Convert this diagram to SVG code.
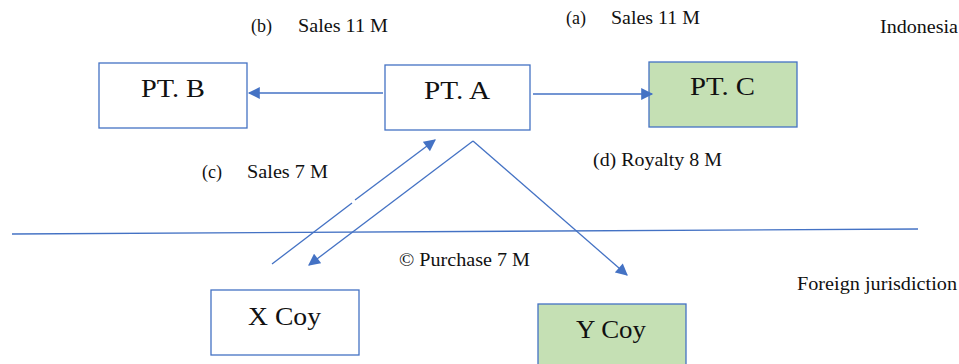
<svg xmlns="http://www.w3.org/2000/svg" width="959" height="364" viewBox="0 0 959 364">
  <style>
    .box { fill: #ffffff; stroke: #4472C4; stroke-width: 1.3; }
    .green { fill: #C5E0B4; }
    .label { font-family: "Liberation Serif", "Times New Roman", serif; font-size: 26px; fill: #111111; }
    .note { font-family: "Liberation Serif", "Times New Roman", serif; font-size: 18px; fill: #111111; }
    .conn { stroke: #4472C4; stroke-width: 1.3; fill: none; }
  </style>
  <defs>
    <marker id="arrow" viewBox="0 0 10 10" refX="9" refY="5" markerWidth="13" markerHeight="12" markerUnits="userSpaceOnUse" orient="auto">
      <path d="M0,0 L10,5 L0,10 Z" fill="#4472C4"/>
    </marker>
  </defs>

  <rect width="959" height="364" fill="#ffffff"/>

  <!-- jurisdiction border -->
  <line x1="12" y1="234" x2="918" y2="229" class="conn"/>

  <g id="pt-b">
    <rect x="99" y="63" width="148" height="65" class="box"/>
    <text x="141" y="97" class="label" textLength="64" lengthAdjust="spacingAndGlyphs">PT. B</text>
  </g>
  <g id="pt-a">
    <rect x="385" y="65" width="145" height="65" class="box"/>
    <text x="424" y="99" class="label" textLength="66" lengthAdjust="spacingAndGlyphs">PT. A</text>
  </g>
  <g id="pt-c">
    <rect x="649" y="62" width="148" height="65" class="box green"/>
    <text x="690" y="95" class="label" textLength="65" lengthAdjust="spacingAndGlyphs">PT. C</text>
  </g>
  <g id="x-coy">
    <rect x="211" y="290" width="148" height="65" class="box"/>
    <text x="248" y="325" class="label" textLength="73" lengthAdjust="spacingAndGlyphs">X Coy</text>
  </g>
  <g id="y-coy">
    <rect x="538" y="304" width="148" height="70" class="box green"/>
    <text x="576" y="338" class="label" textLength="70" lengthAdjust="spacingAndGlyphs">Y Coy</text>
  </g>

  <g id="connectors">
    <line x1="383" y1="93" x2="249" y2="93" class="conn" marker-end="url(#arrow)"/>
    <line x1="533" y1="94" x2="652" y2="94" class="conn" marker-end="url(#arrow)"/>
    <line x1="272" y1="264" x2="352" y2="203" class="conn"/>
    <line x1="355" y1="200" x2="435" y2="140" class="conn" marker-end="url(#arrow)"/>
    <line x1="473" y1="141" x2="309" y2="265" class="conn" marker-end="url(#arrow)"/>
    <line x1="473" y1="141" x2="627" y2="275" class="conn" marker-end="url(#arrow)"/>
  </g>

  <g id="labels">
    <text x="251" y="32" class="note">(b)</text>
    <text x="298" y="32" class="note" textLength="90" lengthAdjust="spacingAndGlyphs">Sales 11 M</text>
    <text x="566" y="24" class="note">(a)</text>
    <text x="611" y="24" class="note" textLength="89" lengthAdjust="spacingAndGlyphs">Sales 11 M</text>
    <text x="880" y="33" class="note" textLength="78" lengthAdjust="spacingAndGlyphs">Indonesia</text>
    <text x="202" y="178" class="note">(c)</text>
    <text x="247" y="178" class="note" textLength="81" lengthAdjust="spacingAndGlyphs">Sales 7 M</text>
    <text x="593" y="166" class="note" textLength="129" lengthAdjust="spacingAndGlyphs">(d) Royalty 8 M</text>
    <text x="399" y="266" class="note" textLength="131" lengthAdjust="spacingAndGlyphs">© Purchase 7 M</text>
    <text x="797" y="290" class="note" textLength="160" lengthAdjust="spacingAndGlyphs">Foreign jurisdiction</text>
  </g>
</svg>
